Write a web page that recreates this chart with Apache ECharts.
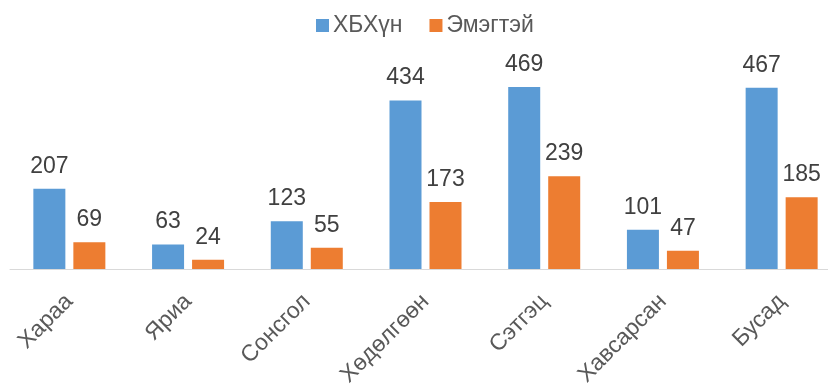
<!DOCTYPE html>
<html><head><meta charset="utf-8">
<script src="https://cdn.jsdelivr.net/npm/echarts@6/dist/echarts.min.js"></script>
<style>html,body{margin:0;padding:0;background:#fff}#c{width:828px;height:385px}</style>
</head><body><div id="c"></div>
<script>
const categories = ['Хараа', 'Яриа', 'Сонсгол', 'Хөдөлгөөн', 'Сэтгэц', 'Хавсарсан', 'Бусад'];
const seriesNames = ['ХБХүн', 'Эмэгтэй'];
const valuesTotal = [207, 63, 123, 434, 469, 101, 467];
const valuesFemale = [69, 24, 55, 173, 239, 47, 185];

const chart = echarts.init(document.getElementById('c'), null, {renderer: 'canvas'});
const font = 'Liberation Sans, Arial, sans-serif';
const lbl = {show: true, position: 'top', distance: 11, color: '#404040', fontSize: 23, fontFamily: font};
chart.setOption({
  animation: false,
  color: ['#5B9BD5', '#ED7D31'],
  legend: {
    top: 14, left: 316, padding: 0, itemWidth: 13, itemHeight: 13, itemGap: 27,
    icon: 'rect',
    textStyle: {color: '#595959', fontSize: 23, fontFamily: font, padding: [0, 0, 0, -1]},
    data: seriesNames
  },
  grid: {left: 10, width: 831, top: 75, height: 194, containLabel: false, outerBoundsMode: 'none'},
  xAxis: {
    type: 'category', data: categories,
    axisLine: {lineStyle: {color: '#d9d9d9', width: 1}},
    axisTick: {show: false},
    axisLabel: {rotate: 45, margin: 29, color: '#595959', fontSize: 23, fontFamily: font, interval: 0}
  },
  yAxis: {type: 'value', min: 0, max: 500, show: false, splitLine: {show: false}},
  series: [
    {name: seriesNames[0], type: 'bar', data: valuesTotal, barWidth: 32, barGap: '25%', label: lbl},
    {name: seriesNames[1], type: 'bar', data: valuesFemale, barWidth: 32, barGap: '25%', label: lbl}
  ]
});
</script></body></html>
